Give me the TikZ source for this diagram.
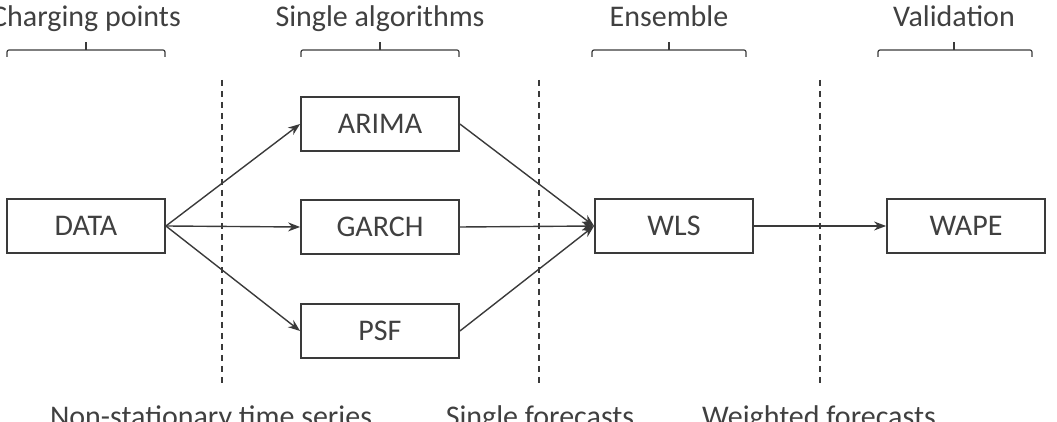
\documentclass[tikz,border=0pt]{standalone}
\usepackage{fontspec}
\setmainfont{Carlito}
\usetikzlibrary{arrows.meta}
\definecolor{ink}{HTML}{404040}
\definecolor{edge}{HTML}{3A3A3A}
\tikzset{
  procbox/.style={draw=edge, line width=0.9pt, minimum width=79pt, minimum height=27pt, inner sep=0pt, text=ink, font=\fontsize{15}{18}\selectfont},
  lbl/.style={text=ink, font=\fontsize{15}{18}\selectfont, inner sep=0pt, anchor=base},
  flow/.style={draw=edge, line width=0.7pt, -{Stealth[length=6pt,width=4.5pt]}},
  divider/.style={draw=edge, line width=0.6pt, dash pattern=on 3pt off 2.5pt},
  brace/.style={draw=edge, line width=0.6pt, rounded corners=1pt}
}
\begin{document}
\begin{tikzpicture}[x=0.5pt,y=-0.5pt]
\useasboundingbox (0,0) rectangle (1057,422);
\clip (0,0) rectangle (1057,422);
% boxes
\node[procbox] (data)  at (86,226)  {DATA};
\node[procbox] (arima) at (380,124) {ARIMA};
\node[procbox] (garch) at (380,227) {GARCH};
\node[procbox] (psf)   at (380,331) {PSF};
\node[procbox] (wls)   at (674,226) {WLS};
\node[procbox] (wape)  at (966,226) {WAPE};
% dividers
\coordinate (d1t) at (222,80);  \coordinate (d1b) at (222,386);
\coordinate (d2t) at (539,80);  \coordinate (d2b) at (539,386);
\coordinate (d3t) at (820,80);  \coordinate (d3b) at (820,386);
\draw[divider] (d1t) -- (d1b);
\draw[divider] (d2t) -- (d2b);
\draw[divider] (d3t) -- (d3b);
% arrows
\draw[flow] (data.east) -- (arima.west);
\draw[flow] (data.east) -- (garch.west);
\draw[flow] (data.east) -- (psf.west);
\draw[flow] (arima.east) -- (wls.west);
\draw[flow] (garch.east) -- (wls.west);
\draw[flow] (psf.east) -- (wls.west);
\draw[flow] (wls.east) -- (wape.west);
% top labels
\node[lbl] (t1) at (86,27)  {Charging points};
\node[lbl] (t2) at (380,27) {Single algorithms};
\node[lbl] (t3) at (669,27) {Ensemble};
\node[lbl] (t4) at (954,27) {Validation};
% brackets
\foreach \l/\r/\m in {7/165/86, 301/459/380, 592/746/669, 878/1032/954}{
  \draw[brace] (\l,57) -- (\l,50) -- (\r,50) -- (\r,57);
  \draw[edge, line width=0.6pt] (\m,50) -- (\m,42);
}
% bottom labels
\node[lbl] (b1) at (211,427) {Non-stationary time series};
\node[lbl] (b2) at (540,427) {Single forecasts};
\node[lbl] (b3) at (819,427) {Weighted forecasts};
\end{tikzpicture}
\end{document}
